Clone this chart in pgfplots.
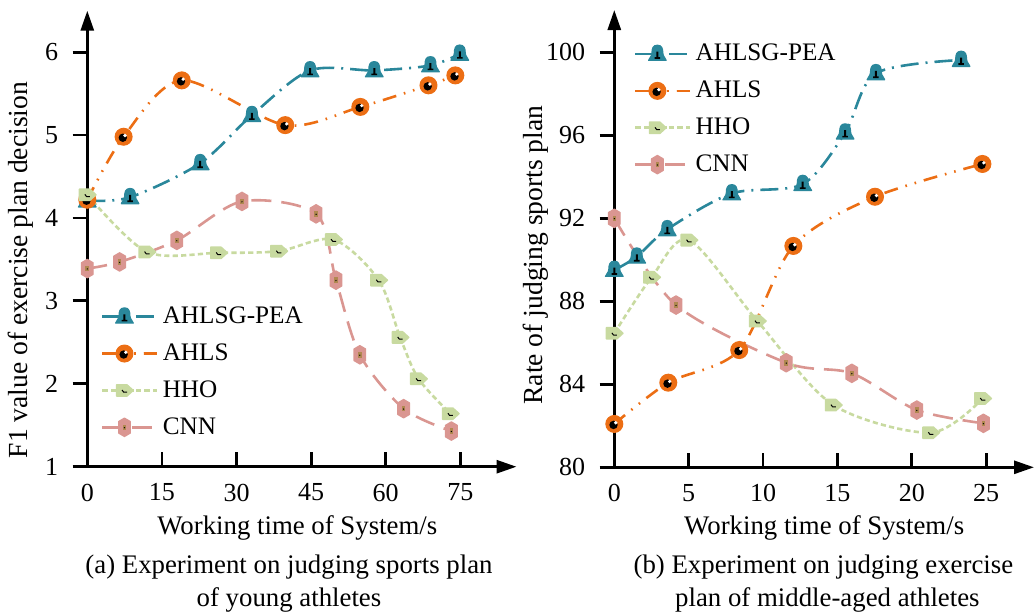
\documentclass[border=0pt]{standalone}
\usepackage{fontspec}
\setmainfont{Liberation Serif}
\usepackage{pgfplots}
\pgfplotsset{compat=1.18}
\usetikzlibrary{arrows.meta}

\definecolor{cteal}{HTML}{2A879B}
\definecolor{corange}{HTML}{EC6E14}
\definecolor{cgreen}{HTML}{C8DAA0}
\definecolor{cpink}{HTML}{DA9691}
\definecolor{ctan}{HTML}{B08850}

\pgfdeclareplotmark{bell}{%
 \pgfpathmoveto{\pgfqpoint{0pt}{4.4pt}}%
 \pgfpathcurveto{\pgfqpoint{2.3pt}{4.4pt}}{\pgfqpoint{2.7pt}{2.5pt}}{\pgfqpoint{2.7pt}{0.5pt}}%
 \pgfpathcurveto{\pgfqpoint{2.7pt}{-1.5pt}}{\pgfqpoint{4.4pt}{-2.2pt}}{\pgfqpoint{4.4pt}{-3.2pt}}%
 \pgfpathlineto{\pgfqpoint{-4.4pt}{-3.2pt}}%
 \pgfpathcurveto{\pgfqpoint{-4.4pt}{-2.2pt}}{\pgfqpoint{-2.7pt}{-1.5pt}}{\pgfqpoint{-2.7pt}{0.5pt}}%
 \pgfpathcurveto{\pgfqpoint{-2.7pt}{2.5pt}}{\pgfqpoint{-2.3pt}{4.4pt}}{\pgfqpoint{0pt}{4.4pt}}%
 \pgfpathclose
 \pgfusepathqfillstroke
 \pgfscope
 \pgfsetfillcolor{black}%
 \pgfpathrectangle{\pgfqpoint{-0.5pt}{-1.8pt}}{\pgfqpoint{1pt}{3pt}}%
 \pgfpathrectangle{\pgfqpoint{-1.4pt}{-2.4pt}}{\pgfqpoint{2.8pt}{0.8pt}}%
 \pgfusepathqfill
 \endpgfscope
}
\pgfdeclareplotmark{odisk}{%
 \pgfpathcircle{\pgfpointorigin}{4.2pt}\pgfusepathqfillstroke
 \pgfscope
 \pgfsetfillcolor{black}\pgfpathcircle{\pgfqpoint{-0.4pt}{-0.5pt}}{2.1pt}\pgfusepathqfill
 \pgfsetfillcolor{white}\pgfpathcircle{\pgfqpoint{0.7pt}{0.6pt}}{0.9pt}\pgfusepathqfill
 \endpgfscope
}
\pgfdeclareplotmark{garrow}{%
 \pgfpathmoveto{\pgfqpoint{-3.9pt}{2.8pt}}%
 \pgfpathlineto{\pgfqpoint{1.2pt}{2.8pt}}%
 \pgfpathlineto{\pgfqpoint{4.3pt}{0pt}}%
 \pgfpathlineto{\pgfqpoint{1.2pt}{-2.8pt}}%
 \pgfpathlineto{\pgfqpoint{-3.9pt}{-2.8pt}}%
 \pgfpathclose
 \pgfusepathqfillstroke
 \pgfscope
 \pgfsetstrokecolor{black}\pgfsetlinewidth{0.5pt}%
 \pgfpathmoveto{\pgfqpoint{-1.2pt}{0.2pt}}%
 \pgfpathlineto{\pgfqpoint{-0.4pt}{-0.9pt}}%
 \pgfpathlineto{\pgfqpoint{1.3pt}{-0.9pt}}%
 \pgfusepathqstroke
 \endpgfscope
}
\pgfdeclareplotmark{phex}{%
 \pgfpathmoveto{\pgfqpoint{0pt}{4.6pt}}%
 \pgfpathlineto{\pgfqpoint{2.9pt}{2.9pt}}%
 \pgfpathlineto{\pgfqpoint{2.9pt}{-2.9pt}}%
 \pgfpathlineto{\pgfqpoint{0pt}{-4.6pt}}%
 \pgfpathlineto{\pgfqpoint{-2.9pt}{-2.9pt}}%
 \pgfpathlineto{\pgfqpoint{-2.9pt}{2.9pt}}%
 \pgfpathclose
 \pgfusepathqfillstroke
 \pgfscope
 \pgfsetfillcolor{ctan}%
 \pgfpathrectangle{\pgfqpoint{-0.9pt}{-1.4pt}}{\pgfqpoint{1.8pt}{2.8pt}}\pgfusepathqfill
 \pgfsetfillcolor{black}%
 \pgfpathcircle{\pgfqpoint{0pt}{-0.2pt}}{0.35pt}\pgfusepathqfill
 \endpgfscope
}

\pgfplotsset{
  myaxis/.style={
    scale only axis, clip=false,
    axis lines=left,
    axis line style={line width=1.4pt, -{Triangle[length=10pt,width=6.5pt]}},
    tick style={line width=1.4pt, black},
    major tick length=7.3pt,
    tick align=inside,
    ytick style={xshift=-7.3pt},
    /pgf/number format/assume math mode=true,
    ticklabel style={font=\fontsize{13}{15}\selectfont},
    xticklabel style={yshift=-5pt},
    yticklabel style={xshift=-11pt},
    legend cell align=left,
    legend style={draw=none, fill=none, font=\fontsize{12.6}{14}\selectfont, row sep=4.6pt},
    legend image code/.code={\draw[mark repeat=2,mark phase=2] plot coordinates {(0pt,0pt)(11pt,0pt)(27.5pt,0pt)};},
  },
  sA/.style={color=cteal, line width=1.3pt, smooth, dash pattern=on 9pt off 3.5pt on 1pt off 3.5pt,
     mark=bell, mark options={solid, fill=cteal, draw=cteal, line width=0.6pt, line join=round}},
  sB/.style={color=corange, line width=1.3pt, smooth, dash pattern=on 7pt off 4pt on 0.8pt off 4pt on 0.8pt off 4pt,
     mark=odisk, mark options={solid, fill=corange, draw=corange, line width=0.6pt}},
  sC/.style={color=cgreen, line width=1.3pt, smooth, dash pattern=on 2.6pt off 1.6pt,
     mark=garrow, mark options={solid, fill=cgreen, draw=cgreen, line width=0.8pt, line join=round}},
  sD/.style={color=cpink, line width=1.3pt, smooth, dash pattern=on 10pt off 5pt,
     mark=phex, mark options={solid, fill=cpink, draw=cpink, line width=0.6pt, line join=round}},
}

\begin{document}
\begin{tikzpicture}
\path[use as bounding box] (0,0) rectangle (517pt,-306pt);
\clip (0,0) rectangle (517pt,-306pt);

\begin{axis}[myaxis,
  at={(43.65pt,-233.35pt)}, anchor=south west,
  width=214.6pt, height=228pt,
  xmin=0, xmax=86.3, ymin=1, ymax=6.5,
  xtick={0,15,30,45,60,75}, ytick={1,2,3,4,5,6},
  legend style={at={(axis cs:1.5,3.03)}, anchor=north west},
]
\addplot[sA] coordinates {(0,4.21)(8.6,4.25)(22.7,4.66)(33.1,5.24)(44.8,5.78)(57.7,5.78)(69.0,5.84)(74.9,5.98)};
\addlegendentry{AHLSG-PEA}
\addplot[sB] coordinates {(0,4.22)(7.3,4.98)(19.0,5.66)(39.8,5.12)(54.9,5.34)(68.6,5.60)(74.0,5.72)};
\addlegendentry{AHLS}
\addplot[sC] coordinates {(0,4.28)(12.0,3.59)(26.4,3.58)(38.5,3.60)(49.5,3.74)(58.6,3.25)(62.9,2.56)(66.6,2.06)(73.0,1.64)};
\addlegendentry{HHO}
\addplot[sD] coordinates {(0,3.39)(6.5,3.47)(18.0,3.73)(31.1,4.20)(46.0,4.05)(50.0,3.25)(54.8,2.35)(63.6,1.70)(73.2,1.43)};
\addlegendentry{CNN}
\end{axis}

\begin{axis}[myaxis,
  at={(307.15pt,-233.65pt)}, anchor=south west,
  width=209.85pt, height=228.65pt,
  xmin=0, xmax=28.22, ymin=80, ymax=102.04,
  xtick={0,5,10,15,20,25}, ytick={80,84,88,92,96,100},
  legend style={at={(axis cs:0.9,100.8)}, anchor=north west},
]
\addplot[sA] coordinates {(0,89.51)(1.51,90.15)(3.56,91.47)(7.90,93.20)(12.67,93.65)(15.52,96.13)(17.59,98.99)(23.32,99.63)};
\addlegendentry{AHLSG-PEA}
\addplot[sB] coordinates {(0,82.09)(3.63,84.08)(8.40,85.65)(12.04,90.67)(17.53,93.04)(24.75,94.62)};
\addlegendentry{AHLS}
\addplot[sC] coordinates {(0,86.46)(2.51,89.16)(5.02,90.95)(9.62,87.05)(14.73,83.0)(21.28,81.67)(24.77,83.32)};
\addlegendentry{HHO}
\addplot[sD] coordinates {(0,92.0)(4.15,87.82)(11.56,85.04)(15.97,84.53)(20.34,82.76)(24.82,82.12)};
\addlegendentry{CNN}
\end{axis}

\begin{scope}[every node/.style={inner sep=0pt, font=\fontsize{13.4}{16}\selectfont}]
\node[anchor=base] at (148.65pt,-267.15pt) {Working time of System/s};
\node[anchor=base] at (412.1pt,-267.15pt) {Working time of System/s};
\node[anchor=base] at (144.5pt,-286.65pt) {(a) Experiment on judging sports plan};
\node[anchor=base] at (144.5pt,-303.35pt) {of young athletes};
\node[anchor=base] at (411.7pt,-286.65pt) {(b) Experiment on judging exercise};
\node[anchor=base] at (413.7pt,-303.35pt) {plan of middle-aged athletes};
\node[anchor=base, rotate=90, font=\fontsize{13.8}{16}\selectfont] at (13.9pt,-135pt) {F1 value of exercise plan decision};
\node[anchor=base, rotate=90, font=\fontsize{13.8}{16}\selectfont] at (271.25pt,-127.5pt) {Rate of judging sports plan};
\end{scope}
\end{tikzpicture}
\end{document}
